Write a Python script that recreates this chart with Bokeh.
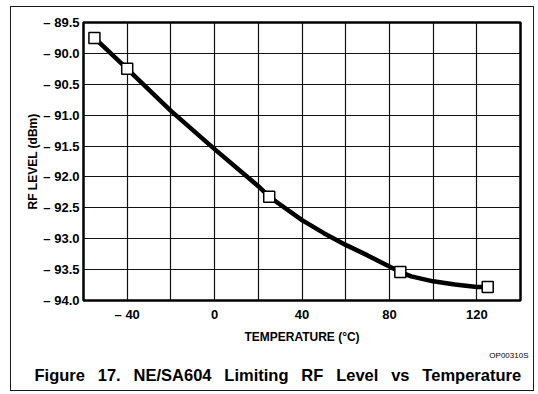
from bokeh.plotting import figure
from bokeh.models import FixedTicker, Title
from bokeh.embed import file_html
from bokeh.resources import INLINE

# ---- data ----
marker_temps = [-55, -40, 25, 85, 125]
marker_levels = [-89.75, -90.25, -92.32, -93.54, -93.78]

curve_temps = [-55, -40, -20, 0, 20, 25, 40, 50, 60, 70, 80, 85, 90, 100, 110, 120, 125]
curve_levels = [-89.75, -90.25, -90.93, -91.55, -92.15, -92.32, -92.70, -92.91,
                -93.10, -93.27, -93.45, -93.54, -93.61, -93.69, -93.74, -93.78, -93.78]

x_grid_ticks = [-60, -40, -20, 0, 20, 40, 60, 80, 100, 120, 140]
x_tick_labels = {-60: "", -40: "\u2013 40", -20: "", 0: "0", 20: "", 40: "40",
                 60: "", 80: "80", 100: "", 120: "120", 140: ""}
y_ticks = [-94.0, -93.5, -93.0, -92.5, -92.0, -91.5, -91.0, -90.5, -90.0, -89.5]
y_tick_labels = ["\u2013 94.0", "\u2013 93.5", "\u2013 93.0", "\u2013 92.5", "\u2013 92.0",
                 "\u2013 91.5", "\u2013 91.0", "\u2013 90.5", "\u2013 90.0", "\u2013 89.5"]

x_title = "TEMPERATURE (\u00b0C)"
y_title = "RF LEVEL (dBm)"
caption_words = ["Figure", "17.", "NE/SA604", "Limiting", "RF", "Level", "vs", "Temperature"]
code_label = "OP00310S"

FONT = "Liberation Sans"
caption = "\u2002 ".join(caption_words)   # wide word gaps as in the printed caption

p = figure(width=522, height=383, x_range=(-60, 140), y_range=(-94.0, -89.5),
           output_backend="svg", toolbar_location=None,
           min_border_left=72, min_border_right=15, min_border_top=15, min_border_bottom=92)

p.background_fill_color = "white"
p.border_fill_color = "white"
p.outline_line_color = "black"
p.outline_line_width = 2.5
p.styles = {"border": "1.5px solid #1a1a1a", "margin": "6px 0px 0px 10px",
            "box-sizing": "content-box"}

# grids
p.xgrid.ticker = FixedTicker(ticks=x_grid_ticks)
p.ygrid.ticker = FixedTicker(ticks=y_ticks)
for g in (p.xgrid, p.ygrid):
    g.grid_line_color = "#111111"
    g.grid_line_width = 1.2

# axes
p.xaxis.ticker = FixedTicker(ticks=x_grid_ticks)
p.xaxis.major_label_overrides = x_tick_labels
p.yaxis.ticker = FixedTicker(ticks=y_ticks)
p.yaxis.major_label_overrides = dict(zip(y_ticks, y_tick_labels))

for ax in (p.xaxis, p.yaxis):
    ax.axis_line_color = None
    ax.major_tick_line_color = None
    ax.minor_tick_line_color = None
    ax.major_tick_in = 0
    ax.major_tick_out = 0
    ax.major_label_text_font = FONT
    ax.major_label_text_font_style = "bold"
    ax.major_label_text_font_size = "13px"
    ax.major_label_text_color = "black"
    ax.axis_label_text_font = FONT
    ax.axis_label_text_font_style = "bold"
    ax.axis_label_text_font_size = "12px"
    ax.axis_label_text_color = "black"

p.xaxis.axis_label = x_title
p.yaxis.axis_label = y_title
p.xaxis.major_label_standoff = 6
p.xaxis.axis_label_standoff = 5
p.yaxis.major_label_standoff = 4
p.yaxis.axis_label_standoff = 0

# curve and markers
p.line(curve_temps, curve_levels, line_color="black", line_width=4.5,
       line_join="round", line_cap="round")
p.scatter(marker_temps, marker_levels, marker="square", size=11,
          fill_color="white", line_color="black", line_width=1.5)

# texts below the axis
p.add_layout(Title(text=code_label, align="right", offset=-8, standoff=4,
                   text_font=FONT, text_font_size="8px", text_font_style="normal",
                   text_color="black"), "below")
p.add_layout(Title(text=caption, align="left", offset=-49, standoff=4,
                   text_font=FONT, text_font_size="16.5px", text_font_style="bold",
                   text_color="black"), "below")

open("out.html", "w").write(file_html(p, INLINE))
